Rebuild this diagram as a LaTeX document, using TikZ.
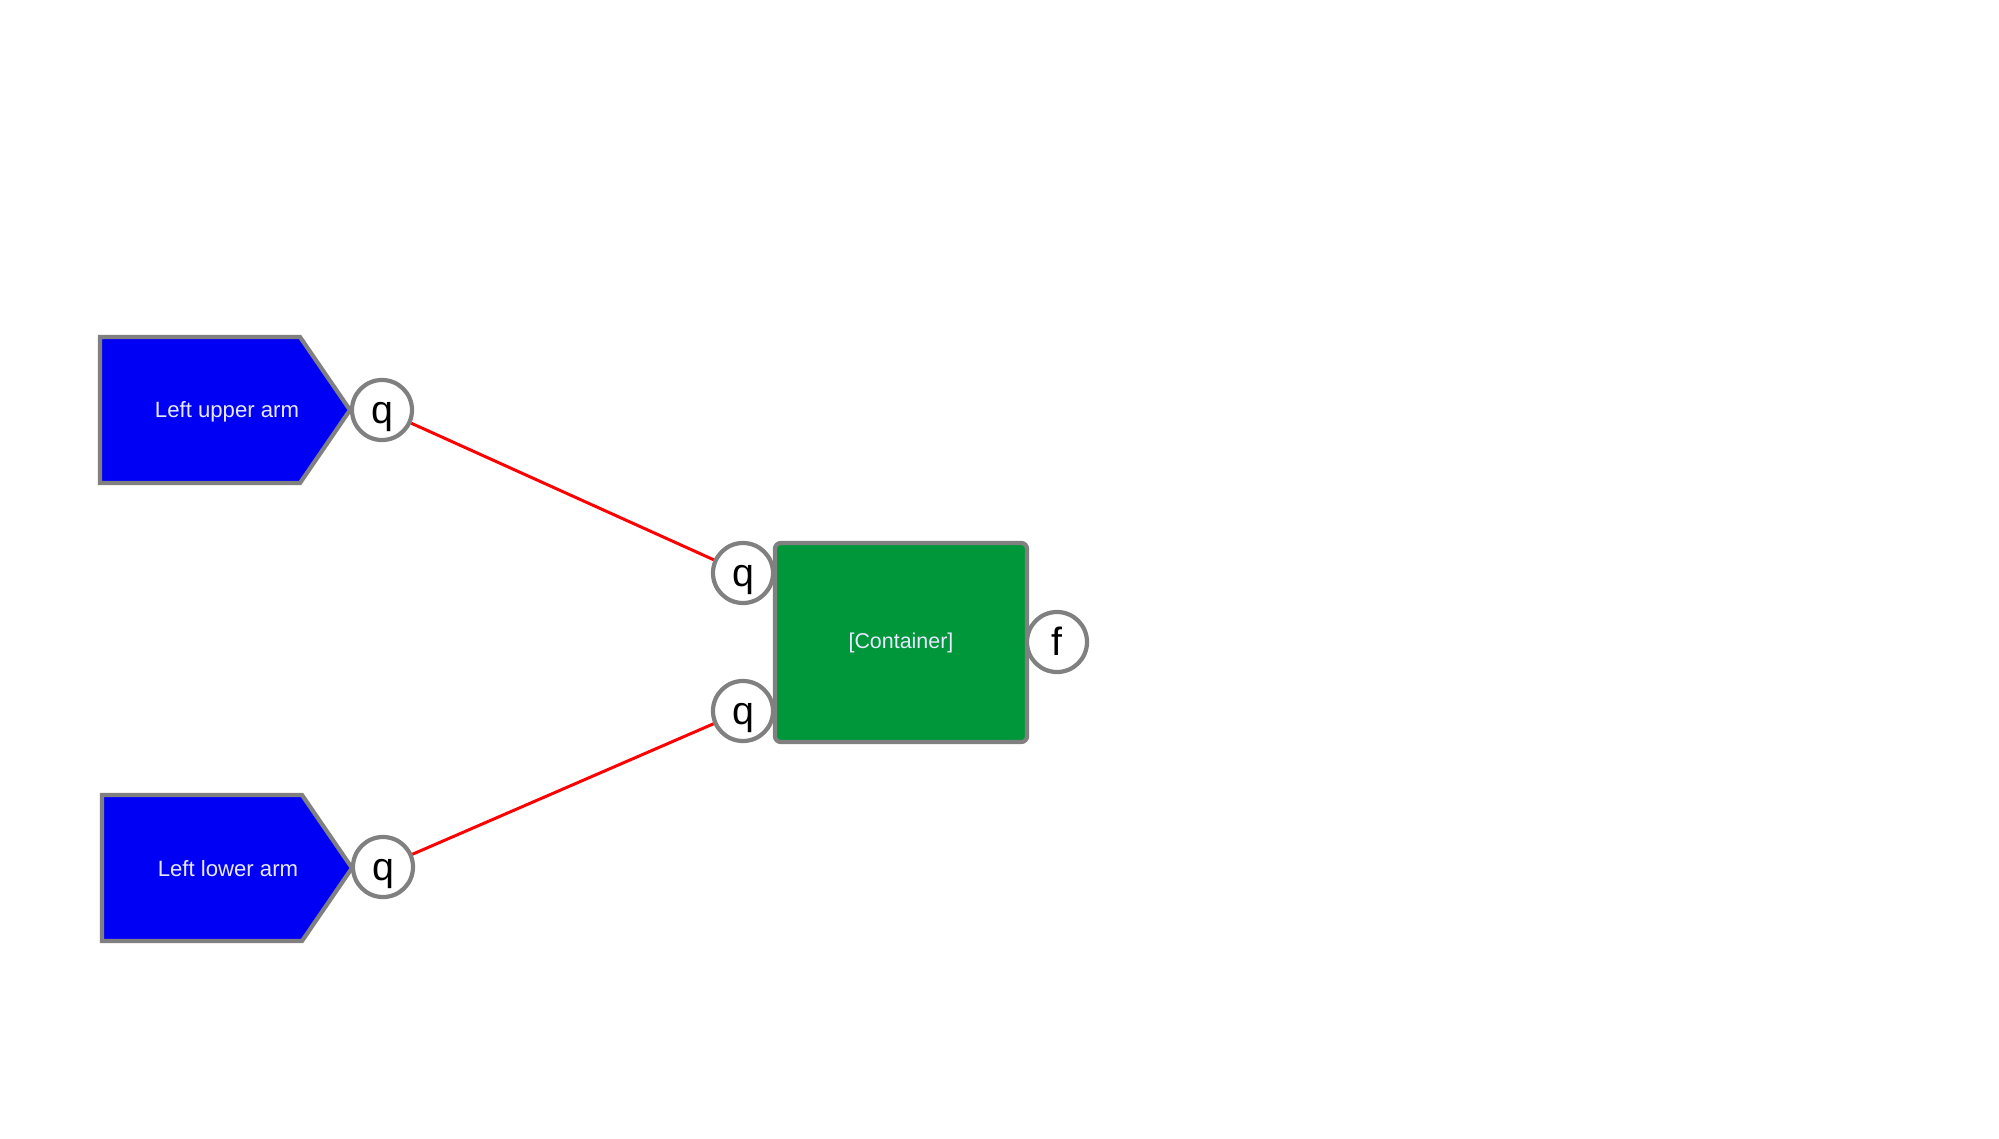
\documentclass[tikz,border=0pt]{standalone}
\usepackage{fontspec}
\setmainfont{Liberation Sans}
\definecolor{armblue}{HTML}{0000F5}
\definecolor{boxgreen}{HTML}{00963A}
\definecolor{edgegray}{HTML}{808080}
\definecolor{paletext}{HTML}{E8E8FF}
\begin{document}
\begin{tikzpicture}[x=0.01cm,y=-0.01cm,
  port/.style={circle, draw=edgegray, line width=1.2pt, fill=white, minimum size=0.6cm, inner sep=0pt, text height=7.6pt, text depth=0pt, font=\fontsize{11.2}{12}\selectfont},
  armshape/.style={fill=armblue, draw=edgegray, line width=1.2pt, line join=miter},
  armtext/.style={text=paletext, font=\fontsize{6.3}{7}\selectfont, inner sep=0pt},
  containerbox/.style={rectangle, rounded corners=0.06cm, fill=boxgreen, draw=edgegray, line width=1.2pt, minimum width=2.52cm, minimum height=1.99cm, text=paletext, font=\fontsize{6.1}{7}\selectfont},
  link/.style={draw=red, line width=0.85pt}]
\useasboundingbox (0,0) rectangle (1999,1139);
% arms
\draw[armshape] (100,337) -- (300,337) -- (350,410) -- (300,483) -- (100,483) -- cycle;
\node[armtext] (upperlabel) at (227,412) {Left upper arm};
\draw[armshape] (102,795) -- (302,795) -- (352,868) -- (302,941) -- (102,941) -- cycle;
\node[armtext] (lowerlabel) at (228,869) {Left lower arm};
% container
\node[containerbox] (container) at (901,642.5) {[Container]};
% ports
\node[port] (pu) at (382,410) {q};
\node[port] (pl) at (383,867) {q};
\node[port] (cq1) at (743,573) {q};
\node[port] (cq2) at (743,711) {q};
\node[port] (cf) at (1057,642) {f};
% links
\draw[link] (pu) -- (cq1);
\draw[link] (pl) -- (cq2);
\end{tikzpicture}
\end{document}
